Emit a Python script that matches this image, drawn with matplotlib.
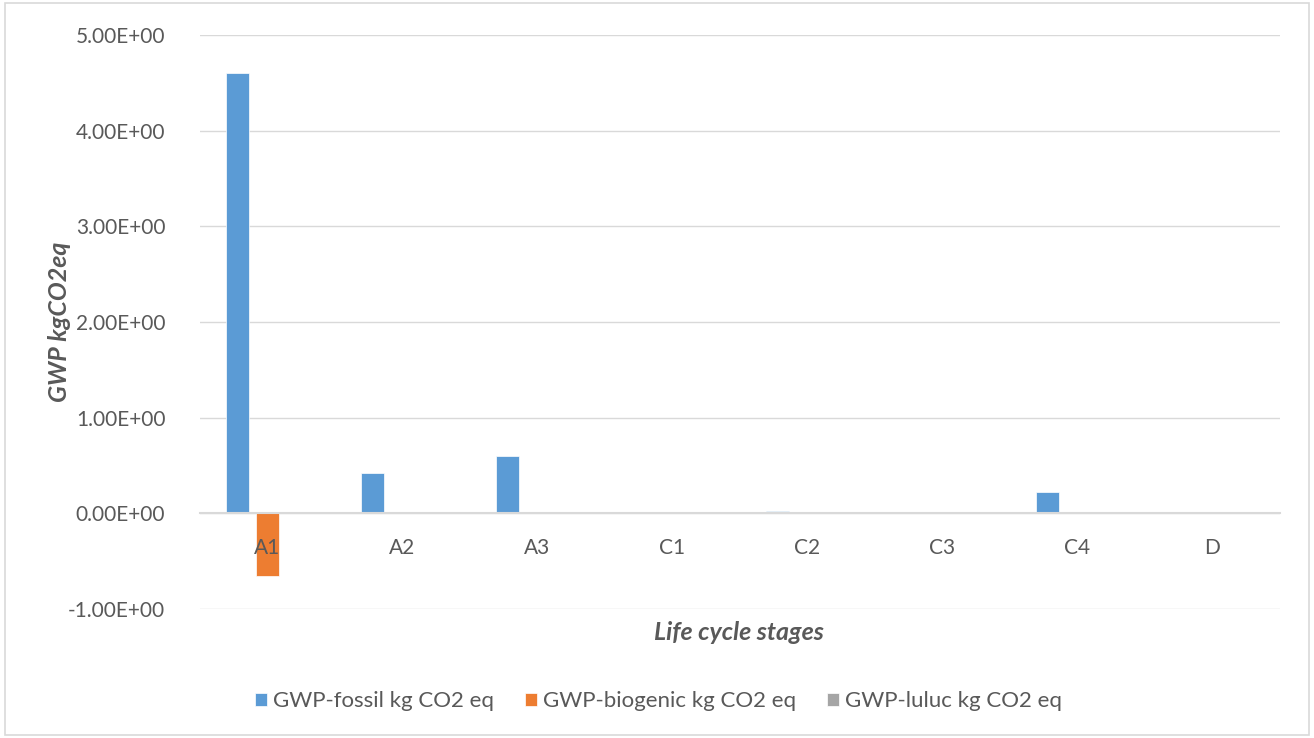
import matplotlib.pyplot as plt
import numpy as np
from matplotlib.patches import Rectangle

stages = ["A1", "A2", "A3", "C1", "C2", "C3", "C4", "D"]
gwp_fossil = [4.60, 0.42, 0.60, 0.0, 0.02, 0.0, 0.22, 0.0]
gwp_biogenic = [-0.65, 0.0, 0.0, 0.0, 0.0, 0.0, 0.0, 0.0]
gwp_luluc = [0.0, 0.0, 0.0, 0.0, 0.0, 0.0, 0.0, 0.0]
yticks = [-1, 0, 1, 2, 3, 4, 5]

plt.rcParams['font.family'] = ['Lato', 'DejaVu Sans']

fig = plt.figure(figsize=(13.14, 7.38), dpi=100)
ax = fig.add_axes([0.1522, 0.1748, 0.8219, 0.7778])

x = np.arange(len(stages))
w = 0.17
off = 0.222
series = [(gwp_fossil, "#5b9bd5", "GWP-fossil kg CO2 eq"),
          (gwp_biogenic, "#ed7d31", "GWP-biogenic kg CO2 eq"),
          (gwp_luluc, "#a5a5a5", "GWP-luluc kg CO2 eq")]
for i, (vals, col, lab) in enumerate(series):
    ax.bar(x + (i - 1) * off, vals, width=w, color=col, label=lab, zorder=3,
           edgecolor='white', linewidth=0.5)

ax.set_xlim(-0.5, len(stages) - 0.5)
ax.set_ylim(-1, 5)
ax.set_yticks(yticks)
ax.set_yticklabels(["{:.2E}".format(v) for v in yticks])
ax.yaxis.grid(True, color="#d9d9d9", linewidth=1, zorder=0)
ax.tick_params(axis='y', length=0, pad=25, labelsize=15, labelcolor="#595959")

ax.set_xticks(x)
ax.set_xticklabels(stages)
ax.xaxis.set_zorder(5)
ax.spines['bottom'].set_position(('data', 0))
ax.spines['bottom'].set_color("#d9d9d9")
ax.spines['bottom'].set_linewidth(1.5)
ax.spines['bottom'].set_zorder(4)
for s in ['top', 'left', 'right']:
    ax.spines[s].set_visible(False)
ax.tick_params(axis='x', length=0, pad=18, labelsize=15, labelcolor="#595959")

fig.text(0.045, 0.5636, "GWP kgCO2eq", rotation=90, ha='center', va='center',
         fontsize=18, fontweight='bold', fontstyle='italic', color="#595959")
fig.text(0.562, 0.143, "Life cycle stages", ha='center', va='center',
         fontsize=18, fontweight='bold', fontstyle='italic', color="#595959")

leg = fig.legend(loc='center', bbox_to_anchor=(0.501, 0.05), ncol=3, frameon=False,
                 fontsize=16, handlelength=0.55, handleheight=0.55, handletextpad=0.25,
                 columnspacing=1.4, labelcolor="#595959")

fig.patches.append(Rectangle((0.004, 0.004), 0.992, 0.992, transform=fig.transFigure,
                             fill=False, edgecolor="#d9d9d9", linewidth=1.2))

fig.savefig("out.png", dpi=100)
